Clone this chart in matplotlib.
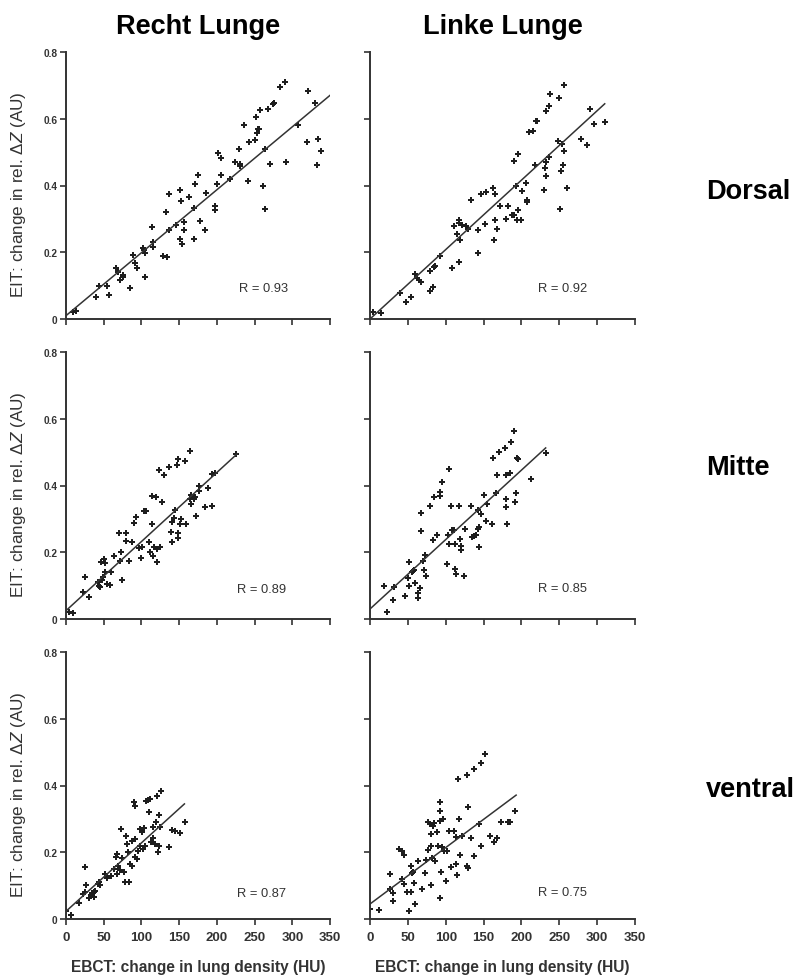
import numpy as np
import matplotlib
matplotlib.use("Agg")
import matplotlib.pyplot as plt

plt.rcParams['font.family'] = ['Liberation Sans', 'DejaVu Sans']
plt.rcParams['mathtext.fontset'] = 'custom'
plt.rcParams['mathtext.rm'] = 'Liberation Sans'
plt.rcParams['mathtext.it'] = 'Liberation Sans:italic'

# EBCT (HU) vs EIT (AU), one pair of arrays per region and lung side
x_dorsal_r = [9, 13, 40, 44, 54, 57, 66, 69, 75, 76, 72, 85, 89, 91, 94, 102, 103, 105, 105,
              114, 116, 116, 128, 134, 132, 137, 136, 146, 151, 152, 151, 154, 156, 156, 163,
              170, 171, 170, 175, 177, 184, 186, 198, 198, 200, 202, 206, 205, 217, 224, 229,
              231, 231, 236, 241, 242, 250, 252, 253, 255, 256, 257, 261, 264, 264, 268, 271,
              274, 276, 284, 290, 292, 307, 319, 321, 330, 334, 333, 338]
y_dorsal_r = [0.020, 0.023, 0.065, 0.100, 0.098, 0.071, 0.153, 0.141, 0.133, 0.126, 0.116,
              0.093, 0.193, 0.168, 0.153, 0.213, 0.206, 0.198, 0.126, 0.275, 0.231, 0.216,
              0.190, 0.186, 0.321, 0.375, 0.268, 0.283, 0.386, 0.355, 0.241, 0.226, 0.291,
              0.268, 0.366, 0.333, 0.405, 0.241, 0.430, 0.293, 0.268, 0.378, 0.338, 0.326,
              0.405, 0.498, 0.483, 0.430, 0.420, 0.470, 0.508, 0.465, 0.458, 0.580, 0.413,
              0.530, 0.535, 0.606, 0.556, 0.568, 0.570, 0.625, 0.400, 0.331, 0.508, 0.628,
              0.465, 0.645, 0.646, 0.695, 0.711, 0.471, 0.580, 0.530, 0.683, 0.648, 0.540,
              0.460, 0.503]

x_dorsal_l = [4, 15, 40, 48, 54, 59, 62, 65, 67, 79, 83, 79, 84, 86, 92, 108, 117, 111, 117,
              118, 115, 119, 122, 127, 130, 134, 142, 142, 146, 152, 153, 162, 165, 164, 165,
              168, 172, 179, 182, 187, 190, 194, 195, 190, 195, 193, 200, 201, 206, 207, 208,
              210, 215, 218, 219, 221, 230, 231, 232, 232, 233, 237, 237, 238, 248, 249, 251,
              252, 253, 256, 255, 256, 260, 279, 287, 290, 296, 310]
y_dorsal_l = [0.020, 0.017, 0.078, 0.052, 0.065, 0.136, 0.122, 0.117, 0.110, 0.085, 0.097,
              0.143, 0.156, 0.159, 0.188, 0.153, 0.171, 0.279, 0.296, 0.288, 0.256, 0.236,
              0.281, 0.279, 0.269, 0.356, 0.199, 0.268, 0.374, 0.286, 0.382, 0.394, 0.376,
              0.236, 0.296, 0.271, 0.338, 0.299, 0.338, 0.311, 0.311, 0.296, 0.328, 0.472,
              0.494, 0.400, 0.296, 0.384, 0.407, 0.356, 0.351, 0.559, 0.562, 0.462, 0.592,
              0.592, 0.387, 0.452, 0.427, 0.622, 0.469, 0.638, 0.485, 0.675, 0.532, 0.663,
              0.331, 0.442, 0.524, 0.504, 0.460, 0.701, 0.394, 0.540, 0.520, 0.628, 0.585,
              0.590]

x_mitte_r = [4, 9, 22, 25, 30, 43, 44, 45, 48, 49, 46, 51, 52, 52, 55, 58, 59, 64, 70, 71, 73,
             74, 79, 79, 84, 87, 90, 93, 97, 99, 101, 103, 106, 110, 112, 114, 114, 115, 117,
             119, 120, 121, 123, 125, 127, 130, 137, 139, 140, 141, 143, 145, 147, 148, 148,
             149, 151, 152, 158, 159, 165, 165, 166, 166, 170, 171, 172, 176, 176, 184, 188,
             194, 194, 198, 225]
y_mitte_r = [0.020, 0.017, 0.082, 0.125, 0.065, 0.110, 0.100, 0.097, 0.118, 0.125, 0.170,
             0.180, 0.168, 0.140, 0.105, 0.102, 0.140, 0.190, 0.258, 0.175, 0.202, 0.118,
             0.258, 0.235, 0.173, 0.230, 0.288, 0.307, 0.214, 0.183, 0.215, 0.325, 0.325,
             0.230, 0.202, 0.370, 0.285, 0.190, 0.215, 0.365, 0.210, 0.170, 0.447, 0.215,
             0.352, 0.430, 0.455, 0.260, 0.292, 0.230, 0.302, 0.328, 0.462, 0.480, 0.242,
             0.258, 0.285, 0.300, 0.472, 0.285, 0.502, 0.360, 0.345, 0.373, 0.360, 0.365,
             0.308, 0.400, 0.385, 0.335, 0.392, 0.340, 0.435, 0.437, 0.495]

x_mitte_l = [19, 22, 31, 32, 46, 50, 51, 52, 55, 57, 58, 60, 64, 66, 64, 68, 68, 70, 71, 73,
             74, 79, 83, 85, 88, 92, 93, 95, 102, 104, 103, 104, 107, 108, 111, 112, 112, 114,
             117, 119, 120, 120, 124, 125, 133, 135, 138, 140, 142, 144, 144, 143, 147, 150,
             153, 154, 161, 163, 166, 168, 171, 178, 179, 179, 179, 181, 185, 186, 190, 191,
             193, 194, 196, 212, 233]
y_mitte_l = [0.098, 0.021, 0.056, 0.095, 0.070, 0.123, 0.098, 0.171, 0.140, 0.143, 0.148,
             0.108, 0.063, 0.093, 0.078, 0.318, 0.263, 0.173, 0.146, 0.193, 0.128, 0.340,
             0.238, 0.366, 0.253, 0.370, 0.381, 0.410, 0.165, 0.450, 0.253, 0.226, 0.340,
             0.268, 0.268, 0.225, 0.150, 0.135, 0.340, 0.240, 0.220, 0.206, 0.128, 0.270,
             0.340, 0.246, 0.250, 0.251, 0.270, 0.275, 0.216, 0.328, 0.316, 0.371, 0.293,
             0.346, 0.285, 0.483, 0.378, 0.430, 0.500, 0.513, 0.335, 0.430, 0.360, 0.285,
             0.436, 0.530, 0.563, 0.350, 0.378, 0.483, 0.480, 0.418, 0.496]

x_ventral_r = [0, 6, 17, 22, 25, 25, 27, 31, 33, 35, 37, 39, 37, 42, 45, 44, 52, 54, 59, 63,
               66, 68, 68, 69, 72, 73, 74, 77, 78, 80, 81, 82, 83, 85, 87, 88, 90, 91, 92, 92,
               94, 95, 98, 98, 101, 102, 104, 105, 106, 109, 110, 112, 113, 115, 116, 118,
               119, 120, 122, 123, 123, 125, 126, 137, 140, 144, 151, 158]
y_ventral_r = [0.025, 0.012, 0.047, 0.075, 0.155, 0.080, 0.102, 0.062, 0.072, 0.078, 0.082,
               0.085, 0.065, 0.105, 0.102, 0.112, 0.135, 0.122, 0.130, 0.150, 0.185, 0.195,
               0.135, 0.160, 0.148, 0.270, 0.182, 0.142, 0.110, 0.250, 0.225, 0.200, 0.110,
               0.165, 0.235, 0.160, 0.352, 0.338, 0.187, 0.240, 0.180, 0.205, 0.218, 0.270,
               0.262, 0.210, 0.272, 0.220, 0.355, 0.357, 0.322, 0.360, 0.230, 0.242, 0.275,
               0.225, 0.292, 0.368, 0.200, 0.220, 0.312, 0.277, 0.385, 0.215, 0.268, 0.265,
               0.258, 0.290]

x_ventral_l = [0, 12, 26, 27, 31, 31, 38, 42, 42, 45, 45, 49, 51, 54, 54, 56, 57, 58, 59, 64,
               69, 73, 74, 76, 77, 79, 80, 81, 81, 82, 83, 84, 86, 88, 90, 92, 92, 93, 93, 94,
               95, 96, 98, 101, 102, 105, 107, 111, 114, 114, 115, 116, 118, 119, 122, 128,
               128, 129, 130, 134, 137, 138, 144, 146, 147, 152, 159, 164, 168, 173, 182, 185,
               192]
y_ventral_l = [0.030, 0.028, 0.135, 0.090, 0.078, 0.053, 0.210, 0.205, 0.120, 0.192, 0.105,
               0.082, 0.025, 0.160, 0.082, 0.138, 0.142, 0.107, 0.045, 0.175, 0.090, 0.138,
               0.177, 0.208, 0.290, 0.285, 0.102, 0.255, 0.220, 0.183, 0.280, 0.288, 0.175,
               0.262, 0.220, 0.352, 0.325, 0.295, 0.062, 0.140, 0.215, 0.300, 0.205, 0.115,
               0.205, 0.265, 0.155, 0.265, 0.245, 0.165, 0.132, 0.418, 0.300, 0.193, 0.250,
               0.432, 0.160, 0.335, 0.152, 0.242, 0.188, 0.448, 0.285, 0.220, 0.468, 0.495,
               0.248, 0.232, 0.242, 0.290, 0.290, 0.292, 0.325]

# regression lines: intercept, slope, end of fitted range (HU)
fit_b0 = [0.010, 0.000, 0.025, 0.030, 0.023, 0.045]
fit_b1 = [0.001886, 0.00208, 0.00207, 0.00208, 0.00205, 0.00169]
fit_xmax = [350, 310, 227, 232, 157, 193]
r_values = [0.93, 0.92, 0.89, 0.85, 0.87, 0.75]

xs = [x_dorsal_r, x_dorsal_l, x_mitte_r, x_mitte_l, x_ventral_r, x_ventral_l]
ys = [y_dorsal_r, y_dorsal_l, y_mitte_r, y_mitte_l, y_ventral_r, y_ventral_l]

col_titles = ['Recht Lunge', 'Linke Lunge']
row_titles = ['Dorsal', 'Mitte', 'ventral']
x_ticks = [0, 50, 100, 150, 200, 250, 300, 350]
y_ticks = [0, 0.2, 0.4, 0.6, 0.8]
y_ticklabels = ['0', '0.2', '0.4', '0.6', '0.8']

W, H = 803, 978
fig = plt.figure(figsize=(W / 100, H / 100), dpi=100)

col_left = [66, 370]
col_w = [264, 265]
row_top = [53, 353, 653]
row_h = 267
r_pos = [(0.75, 0.117), (0.725, 0.117), (0.74, 0.112), (0.725, 0.116), (0.74, 0.097), (0.725, 0.10)]

ink = '#1e1e1e'
axes = []
for i in range(6):
    r, c = divmod(i, 2)
    ax = fig.add_axes([col_left[c] / W, 1 - (row_top[r] + row_h) / H, col_w[c] / W, row_h / H])
    axes.append(ax)
    ax.plot(xs[i], ys[i], linestyle='none', marker='P', ms=4.0, color=ink, mew=0)
    xf = np.array([0, fit_xmax[i]])
    ax.plot(xf, fit_b0[i] + fit_b1[i] * xf, color='#333333', lw=1.1)
    ax.text(r_pos[i][0], r_pos[i][1], 'R = %.2f' % r_values[i], transform=ax.transAxes,
            ha='center', va='center', fontsize=9.3, color='#333333')

    ax.set_xlim(0, 350)
    ax.set_ylim(0, 0.8)
    ax.set_xticks(x_ticks)
    ax.set_yticks(y_ticks)
    for s in ['top', 'right']:
        ax.spines[s].set_visible(False)
    for s in ['left', 'bottom']:
        ax.spines[s].set_linewidth(1.4)
        ax.spines[s].set_color('#333333')
    ax.tick_params(direction='out', length=4, width=1.2, color='#333333')
    ax.tick_params(axis='x', labelsize=9.5, pad=5, labelcolor='#333333')
    ax.tick_params(axis='y', labelsize=7.3, pad=2, labelcolor='#333333')
    for lab in ax.get_xticklabels() + ax.get_yticklabels():
        lab.set_fontweight('bold')

    if c == 0:
        ax.set_yticklabels(y_ticklabels)
        ax.set_ylabel(r'EIT: change in rel. $\Delta Z$ (AU)', fontsize=12.3, color='#333333')
        ax.yaxis.set_label_coords(-0.145, 0.47)
    else:
        ax.set_yticklabels([])
    if r == 2:
        ax.set_xlabel('EBCT: change in lung density (HU)', fontsize=11.2, fontweight='bold',
                      color='#333333', labelpad=11)
    else:
        ax.set_xticklabels([])

for c in range(2):
    fig.text((col_left[c] + col_w[c] / 2) / W, 1 - 27 / H, col_titles[c],
             ha='center', va='center', fontsize=19.5, fontweight='bold', color='black')
row_y = [192, 468, 790]
for r in range(3):
    fig.text(706 / W, 1 - row_y[r] / H, row_titles[r], ha='left', va='center',
             fontsize=19.5, fontweight='bold', color='black')

fig.savefig('out.png', dpi=100)
